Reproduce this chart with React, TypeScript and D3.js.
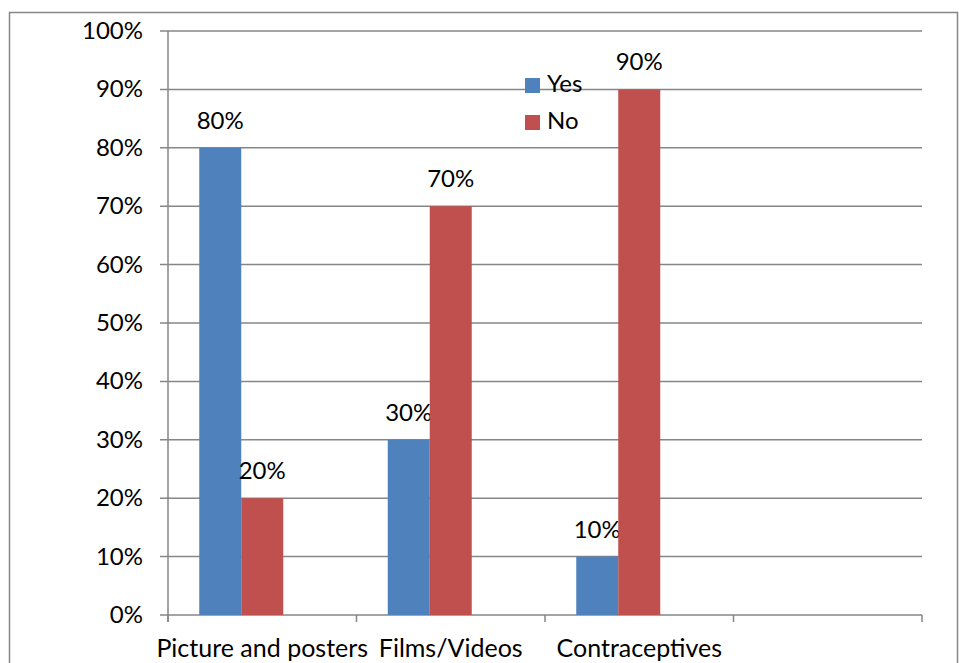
import * as d3 from 'd3';

const categories = ['Picture and posters', 'Films/Videos', 'Contraceptives', ''];
const seriesNames = ['Yes', 'No'];
const yesValues = [0.8, 0.3, 0.1, null];
const noValues = [0.2, 0.7, 0.9, null];
const seriesColors = ['#4F81BD', '#C0504D'];
const yTicks = [0, 0.1, 0.2, 0.3, 0.4, 0.5, 0.6, 0.7, 0.8, 0.9, 1];

const FONT = 'Lato, "Liberation Sans", sans-serif';
const FS = 24;

export default function App() {
  const width = 959;
  const height = 663;
  const margin = { top: 31, right: 37, bottom: 48, left: 168 };

  const x0 = d3.scaleBand<string>()
    .domain(categories)
    .range([margin.left, width - margin.right])
    .padding(0);

  // Excel leaves room for a third (empty) series slot in each group
  const x1 = d3.scaleBand<string>()
    .domain([...seriesNames, '_blank'])
    .range([0, x0.bandwidth()])
    .paddingInner(0)
    .paddingOuter(0.744);

  const y = d3.scaleLinear()
    .domain([0, 1])
    .range([height - margin.bottom, margin.top]);

  const fmt = d3.format('.0%');
  const seriesValues = [yesValues, noValues];
  const grid = '#868686';

  const boundaries = categories.map(c => x0(c)!).concat([x0.range()[1]]);

  return (
    <svg width={width} height={height} style={{ position: 'absolute', left: 0, top: 0, background: '#fff' }}
      fontFamily={FONT}>
      {/* chart frame */}
      <rect x={9.5} y={12.5} width={948} height={700} fill="#fff" stroke={grid} strokeWidth={1.5} />

      {/* gridlines and y ticks */}
      {yTicks.map(t => (
        <g key={t}>
          <line x1={margin.left - 8} x2={x0.range()[1]} y1={y(t)} y2={y(t)} stroke={grid} strokeWidth={1.5} />
          <text x={143} y={y(t)} dy={8} textAnchor="end" fontSize={FS} fill="#000">{fmt(t)}</text>
        </g>
      ))}

      {/* bars */}
      {seriesValues.map((vals, si) => (
        <g key={si}>
          {categories.map((c, ci) => {
            const v = vals[ci];
            if (v == null) return null;
            const bx = x0(c)! + x1(seriesNames[si])!;
            return (
              <g key={c}>
                <rect x={bx} y={y(v)} width={x1.bandwidth()} height={y(0) - y(v)} fill={seriesColors[si]} />
                <text x={bx + x1.bandwidth() / 2} y={y(v) - 19} textAnchor="middle" fontSize={FS} fill="#000">
                  {fmt(v)}
                </text>
              </g>
            );
          })}
        </g>
      ))}

      {/* axes */}
      <line x1={margin.left} x2={margin.left} y1={y(1)} y2={y(0) + 7} stroke={grid} strokeWidth={1.5} />
      {boundaries.map((b, i) => (
        <line key={i} x1={b} x2={b} y1={y(0)} y2={y(0) + 7} stroke={grid} strokeWidth={1.5} />
      ))}
      {categories.map(c => (
        <text key={c} x={x0(c)! + x0.bandwidth() / 2} y={657} textAnchor="middle" fontSize={25} fill="#000">{c}</text>
      ))}

      {/* legend */}
      {seriesNames.map((s, i) => (
        <g key={s} transform={`translate(525, ${78 + i * 37})`}>
          <rect width={15} height={15} fill={seriesColors[i]} />
          <text x={22} y={14} fontSize={FS} fill="#000">{s}</text>
        </g>
      ))}
    </svg>
  );
}
